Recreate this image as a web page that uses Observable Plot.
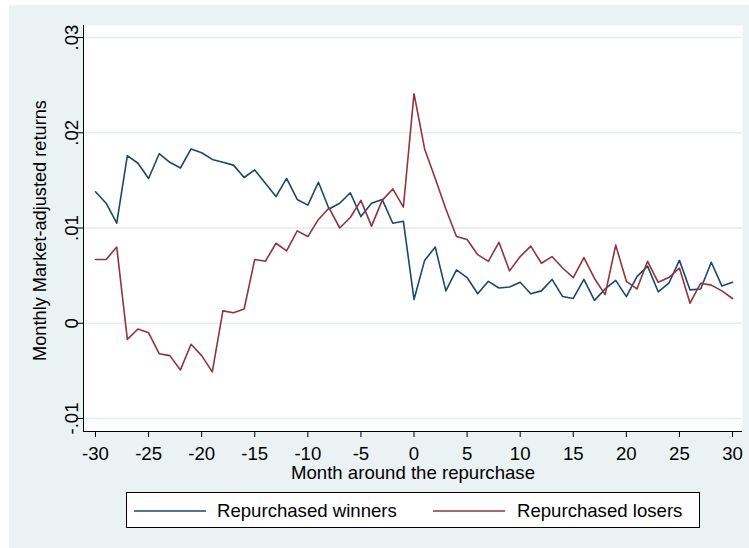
<!DOCTYPE html>
<html>
<head>
<meta charset="utf-8">
<script src="https://cdn.jsdelivr.net/npm/d3@7"></script>
<script src="https://cdn.jsdelivr.net/npm/@observablehq/plot@0.6"></script>
<style>
  html, body { margin: 0; padding: 0; background: #ffffff; }
  #page { position: relative; width: 749px; height: 548px; overflow: hidden; font-family: "Liberation Sans", Arial, sans-serif; }
  #bg { position: absolute; left: 9px; top: 5px; width: 740px; height: 543px; background: #eaf2f3; }
  #chart { position: absolute; left: 0; top: 0; }
  #legend { position: absolute; left: 0; top: 485px; }
</style>
</head>
<body>
<div id="page">
  <div id="bg"></div>
  <div id="chart"></div>
  <div id="legend"></div>
</div>
<script>
const months = [-30,-29,-28,-27,-26,-25,-24,-23,-22,-21,-20,-19,-18,-17,-16,-15,-14,-13,-12,-11,-10,-9,-8,-7,-6,-5,-4,-3,-2,-1,0,1,2,3,4,5,6,7,8,9,10,11,12,13,14,15,16,17,18,19,20,21,22,23,24,25,26,27,28,29,30];

const winners = [0.0138,0.0126,0.0105,0.0176,0.0168,0.0152,0.0178,0.0169,0.0163,0.0183,0.0179,0.0172,0.0169,0.0166,0.0153,0.0161,0.0147,0.0133,0.0152,0.0130,0.0124,0.0148,0.0120,0.0126,0.0137,0.0112,0.0126,0.0130,0.0105,0.0107,0.0025,0.0066,0.0080,0.0034,0.0056,0.0048,0.0031,0.0044,0.0037,0.0038,0.0043,0.0031,0.0034,0.0046,0.0028,0.0026,0.0046,0.0024,0.0036,0.0045,0.0028,0.0049,0.0060,0.0033,0.0042,0.0066,0.0035,0.0036,0.0064,0.0039,0.0043];

const losers = [0.0067,0.0067,0.0080,-0.0017,-0.0006,-0.0010,-0.0032,-0.0034,-0.0049,-0.0022,-0.0034,-0.0051,0.0013,0.0011,0.0015,0.0067,0.0065,0.0084,0.0076,0.0097,0.0091,0.0109,0.0121,0.0100,0.0111,0.0129,0.0102,0.0129,0.0141,0.0122,0.0241,0.0183,0.0152,0.0120,0.0091,0.0088,0.0072,0.0065,0.0085,0.0055,0.0070,0.0081,0.0063,0.0070,0.0058,0.0048,0.0069,0.0047,0.0030,0.0082,0.0044,0.0036,0.0065,0.0043,0.0048,0.0058,0.0021,0.0042,0.0040,0.0034,0.0026];

const seriesNames = ["Repurchased winners", "Repurchased losers"];
const seriesColors = ["#1a476f", "#90353b"];

const xTicks = [-30,-25,-20,-15,-10,-5,0,5,10,15,20,25,30];
const yTicks = [-0.01, 0, 0.01, 0.02, 0.03];
const yTickLabels = ["-.01", "0", ".01", ".02", ".03"];

const xTitle = "Month around the repurchase";
const yTitle = "Monthly Market-adjusted returns";

const xDomain = [-31.13, 30.94];
const yDomain = [-0.011365, 0.03126];

const rows = [];
months.forEach((m, i) => {
  rows.push({month: m, value: winners[i], series: seriesNames[0]});
});
months.forEach((m, i) => {
  rows.push({month: m, value: losers[i], series: seriesNames[1]});
});

const FONT = "\"Liberation Sans\", Arial, sans-serif";
const FS = 18.6;

const chart = Plot.plot({
  width: 749,
  height: 485,
  marginLeft: 83,
  marginRight: 7,
  marginTop: 25,
  marginBottom: 54,
  style: {background: "transparent", fontFamily: FONT, fontSize: FS + "px", color: "#000"},
  x: {domain: xDomain, axis: null},
  y: {domain: yDomain, axis: null},
  color: {domain: seriesNames, range: seriesColors},
  marks: [
    Plot.frame({fill: "white", stroke: null}),
    Plot.gridY(yTicks, {stroke: "#e4edef", strokeOpacity: 1, strokeWidth: 1.5}),
    Plot.line(rows, {x: "month", y: "value", z: "series", stroke: "series", strokeWidth: 1.6}),
    Plot.ruleX([xDomain[0]], {stroke: "#000", strokeWidth: 1}),
    Plot.ruleY([yDomain[0]], {stroke: "#000", strokeWidth: 1}),
    Plot.axisX(xTicks, {label: null, tickSize: 6, tickPadding: 9, fontSize: FS, stroke: "#000", fill: "#000", tickFormat: d => String(d)}),
    Plot.axisY(yTicks, {label: null, tickSize: 7, tickFormat: () => "", stroke: "#000"}),
    Plot.text(yTicks, {y: d => d, text: (d, i) => yTickLabels[i], frameAnchor: "left", dx: -6, rotate: -90, textAnchor: "middle", lineAnchor: "bottom", fontSize: FS, fill: "#000"}),
    Plot.text([yTitle], {text: d => d, frameAnchor: "left", dx: -38, dy: 2, rotate: -90, textAnchor: "middle", lineAnchor: "bottom", fontSize: 18.2, fill: "#000"}),
    Plot.text([xTitle], {text: d => d, frameAnchor: "bottom", dy: 47, textAnchor: "middle", lineAnchor: "bottom", fontSize: FS, fill: "#000"})
  ]
});
document.getElementById("chart").appendChild(chart);

// Legend (below the plot)
const lg = d3.select("#legend").append("svg")
  .attr("width", 749).attr("height", 63)
  .style("font-family", FONT).style("font-size", FS + "px");
const legTop = 492 - 485;
lg.append("rect").attr("x", 126.5).attr("y", legTop + 0.5).attr("width", 573).attr("height", 35)
  .attr("fill", "white").attr("stroke", "#000").attr("stroke-width", 1);
const items = [
  {name: seriesNames[0], color: seriesColors[0], x1: 134, x2: 206, tx: 217},
  {name: seriesNames[1], color: seriesColors[1], x1: 433, x2: 505, tx: 517}
];
items.forEach(it => {
  lg.append("line").attr("x1", it.x1).attr("x2", it.x2).attr("y1", 511 - 485).attr("y2", 511 - 485)
    .attr("stroke", it.color).attr("stroke-width", 1.6);
  lg.append("text").attr("x", it.tx).attr("y", 517 - 485).attr("fill", "#000").text(it.name);
});
</script>
</body>
</html>
